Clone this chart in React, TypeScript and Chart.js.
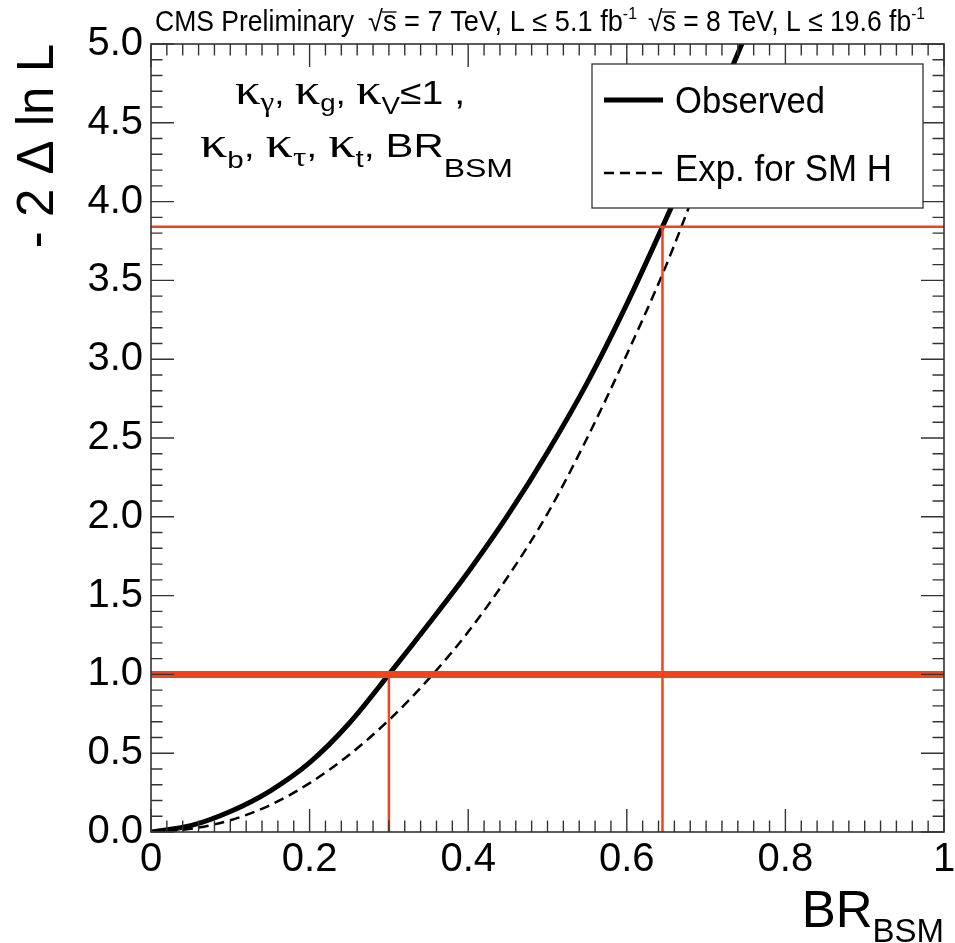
import { useEffect, useRef } from "react";
import { Chart, registerables } from "chart.js";

Chart.register(...registerables);

// Observed likelihood scan, -2ΔlnL vs BR_BSM
const observedX = [0, 0.05, 0.1, 0.15, 0.2, 0.25, 0.3, 0.35, 0.4, 0.45, 0.5, 0.55, 0.6, 0.645, 0.7, 0.75];
const observedY = [0, 0.04, 0.13, 0.26, 0.44, 0.69, 1.0, 1.32, 1.65, 2.01, 2.41, 2.85, 3.35, 3.84, 4.46, 5.06];

// Expected scan for a SM Higgs boson
const expectedX = [0, 0.05, 0.1, 0.15, 0.2, 0.25, 0.3, 0.35, 0.4, 0.45, 0.5, 0.55, 0.6, 0.65, 0.7, 0.72];
const expectedY = [0, 0.02, 0.075, 0.17, 0.31, 0.49, 0.71, 0.97, 1.27, 1.62, 2.02, 2.5, 3.03, 3.6, 4.25, 4.5];

// 68% / 95% CL thresholds and the observed limits where the scan crosses them
const clLevels = [1.0, 3.84];
const clLimits = [0.3, 0.645];

const xTickValues = [0, 0.2, 0.4, 0.6, 0.8, 1];
const xTickLabels = ["0", "0.2", "0.4", "0.6", "0.8", "1"];
const yTickValues = [0, 0.5, 1, 1.5, 2, 2.5, 3, 3.5, 4, 4.5, 5];
const yTickLabels = ["0.0", "0.5", "1.0", "1.5", "2.0", "2.5", "3.0", "3.5", "4.0", "4.5", "5.0"];
const xMinorStep = 0.02;
const yMinorStep = 0.1;

const legendLabels = ["Observed", "Exp. for SM H"];

const SANS = '"Liberation Sans", Arial, Helvetica, sans-serif';
const GREEK = '"Liberation Serif", "DejaVu Serif", serif';
const RED = "#f0441f";
const FRAME = "#333333";

type Seg = { t: string; f: string; dy?: number; over?: boolean };

function segWidth(ctx: CanvasRenderingContext2D, segs: Seg[]) {
  let w = 0;
  for (const s of segs) {
    ctx.font = s.f;
    w += ctx.measureText(s.t).width;
  }
  return w;
}

// Draws a run of differently styled pieces; optionally squeezed/stretched to a width
function drawSegs(ctx: CanvasRenderingContext2D, segs: Seg[], x: number, y: number, targetW?: number) {
  const w = segWidth(ctx, segs);
  const sx = targetW ? targetW / w : 1;
  ctx.save();
  ctx.translate(x, y);
  ctx.scale(sx, 1);
  ctx.textAlign = "left";
  ctx.textBaseline = "alphabetic";
  let cx = 0;
  for (const s of segs) {
    ctx.font = s.f;
    const m = ctx.measureText(s.t);
    ctx.fillText(s.t, cx, s.dy || 0);
    if (s.over) {
      // radical overbar above the argument
      const top = (s.dy || 0) - m.actualBoundingBoxAscent - 3;
      ctx.save();
      ctx.strokeStyle = ctx.fillStyle as string;
      ctx.lineWidth = 1.3;
      ctx.beginPath();
      ctx.moveTo(cx - 1, top);
      ctx.lineTo(cx + m.width, top);
      ctx.stroke();
      ctx.restore();
    }
    cx += m.width;
  }
  ctx.restore();
}

const pts = (xs: number[], ys: number[]) => xs.map((x, i) => ({ x, y: ys[i] }));

const frameAndLegend = {
  id: "frameAndLegend",
  afterDatasetsDraw(chart: any) {
    const { ctx, chartArea: a, scales } = chart;
    const xs = scales.x;
    const ys = scales.y;
    ctx.save();
    ctx.strokeStyle = FRAME;
    ctx.lineWidth = 1.4;
    ctx.beginPath();
    const nx = Math.round((xs.max - xs.min) / xMinorStep);
    for (let i = 0; i <= nx; i++) {
      const v = xs.min + i * xMinorStep;
      const px = xs.getPixelForValue(v);
      const major = xTickValues.some((t) => Math.abs(t - v) < 1e-6);
      const len = major ? 23 : 11.5;
      ctx.moveTo(px, a.bottom);
      ctx.lineTo(px, a.bottom - len);
      ctx.moveTo(px, a.top);
      ctx.lineTo(px, a.top + len);
    }
    const ny = Math.round((ys.max - ys.min) / yMinorStep);
    for (let i = 0; i <= ny; i++) {
      const v = ys.min + i * yMinorStep;
      const py = ys.getPixelForValue(v);
      const major = yTickValues.some((t) => Math.abs(t - v) < 1e-6);
      const len = major ? 23 : 11.5;
      ctx.moveTo(a.left, py);
      ctx.lineTo(a.left + len, py);
      ctx.moveTo(a.right, py);
      ctx.lineTo(a.right - len, py);
    }
    ctx.stroke();
    ctx.lineWidth = 1.6;
    ctx.strokeRect(a.left, a.top, a.right - a.left, a.bottom - a.top);

    // legend box
    const lx = a.left + 441;
    const ly = a.top + 20;
    const lw = 331;
    const lh = 144;
    ctx.fillStyle = "#ffffff";
    ctx.fillRect(lx, ly, lw, lh);
    ctx.lineWidth = 1.3;
    ctx.strokeStyle = FRAME;
    ctx.strokeRect(lx, ly, lw, lh);

    const entries = [
      { ds: chart.data.datasets[4], y: ly + 36, ty: ly + 49 },
      { ds: chart.data.datasets[5], y: ly + 109, ty: ly + 117 },
    ];
    const textW = [150, 217];
    entries.forEach((e, i) => {
      ctx.save();
      ctx.strokeStyle = e.ds.borderColor;
      ctx.lineWidth = e.ds.borderWidth;
      ctx.setLineDash(e.ds.borderDash || []);
      ctx.beginPath();
      ctx.moveTo(lx + 12, e.y);
      ctx.lineTo(lx + 71, e.y);
      ctx.stroke();
      ctx.restore();
      ctx.fillStyle = "#000";
      drawSegs(ctx, [{ t: legendLabels[i], f: `36px ${SANS}` }], lx + 83, e.ty, textW[i]);
    });
    ctx.restore();
  },
  afterDraw(chart: any) {
    const { ctx, chartArea: a } = chart;
    ctx.save();
    ctx.fillStyle = "#000";

    // y axis title, rotated, ending at the top of the frame
    ctx.save();
    ctx.translate(53, a.top);
    ctx.rotate(-Math.PI / 2);
    ctx.font = `51px ${SANS}`;
    ctx.textAlign = "right";
    ctx.textBaseline = "alphabetic";
    ctx.fillText("- 2 \u0394 ln L", 0, 0);
    ctx.restore();

    // x axis title, right-aligned with the frame
    const xt: Seg[] = [
      { t: "BR", f: `51px ${SANS}` },
      { t: "BSM", f: `33px ${SANS}`, dy: 15 },
    ];
    const xtw = segWidth(ctx, xt);
    drawSegs(ctx, xt, a.right - xtw, 927);

    // header
    const hf = `29px ${SANS}`;
    const hs = `17px ${SANS}`;
    drawSegs(ctx, [{ t: "CMS Preliminary", f: hf }], 155, 31, 199);
    const lumi = (e: string, l: string): Seg[] => [
      { t: "\u221A", f: hf },
      { t: "s", f: hf, over: true },
      { t: " = " + e + " TeV, L \u2264 " + l + " fb", f: hf },
      { t: "-1", f: hs, dy: -12 },
    ];
    drawSegs(ctx, lumi("7", "5.1"), 368, 31, 269);
    drawSegs(ctx, lumi("8", "19.6"), 648, 31, 277);

    // model annotation
    const k = `44px ${GREEK}`;
    const sub = `24px ${SANS}`;
    const subG = `27px ${GREEK}`;
    const t = `32px ${SANS}`;
    drawSegs(
      ctx,
      [
        { t: "\u03BA", f: k },
        { t: "\u03B3", f: subG, dy: 7 },
        { t: ", ", f: t },
        { t: "\u03BA", f: k },
        { t: "g", f: sub, dy: 7 },
        { t: ", ", f: t },
        { t: "\u03BA", f: k },
        { t: "V", f: sub, dy: 10 },
        { t: "\u22641 ,", f: `34px ${SANS}` },
      ],
      235,
      104,
      230
    );
    drawSegs(
      ctx,
      [
        { t: "\u03BA", f: k },
        { t: "b", f: sub, dy: 11 },
        { t: ", ", f: t },
        { t: "\u03BA", f: k },
        { t: "\u03C4", f: subG, dy: 9 },
        { t: ", ", f: t },
        { t: "\u03BA", f: k },
        { t: "t", f: sub, dy: 10 },
        { t: ", ", f: t },
        { t: "BR", f: `34px ${SANS}` },
        { t: "BSM", f: `26px ${SANS}`, dy: 20 },
      ],
      200,
      157,
      313
    );
    ctx.restore();
  },
};

export default function App() {
  const ref = useRef<HTMLCanvasElement>(null);

  useEffect(() => {
    const canvas = ref.current;
    if (!canvas) return;
    const chart = new Chart(canvas, {
      type: "line",
      data: {
        datasets: [
          {
            label: "1 sigma",
            data: [
              { x: 0, y: clLevels[0] },
              { x: 1, y: clLevels[0] },
            ],
            borderColor: RED,
            borderWidth: 7,
            pointRadius: 0,
            clip: 0,
          },
          {
            label: "95% CL",
            data: [
              { x: 0, y: clLevels[1] },
              { x: 1, y: clLevels[1] },
            ],
            borderColor: RED,
            borderWidth: 2.5,
            pointRadius: 0,
            clip: 0,
          },
          {
            label: "limit 1",
            data: [
              { x: clLimits[0], y: 0 },
              { x: clLimits[0], y: clLevels[0] },
            ],
            borderColor: RED,
            borderWidth: 2.5,
            pointRadius: 0,
            clip: 0,
          },
          {
            label: "limit 2",
            data: [
              { x: clLimits[1], y: 0 },
              { x: clLimits[1], y: clLevels[1] },
            ],
            borderColor: RED,
            borderWidth: 2.5,
            pointRadius: 0,
            clip: 0,
          },
          {
            label: legendLabels[0],
            data: pts(observedX, observedY),
            borderColor: "#000000",
            borderWidth: 5,
            pointRadius: 0,
            cubicInterpolationMode: "monotone",
            clip: 0,
          },
          {
            label: legendLabels[1],
            data: pts(expectedX, expectedY),
            borderColor: "#000000",
            borderWidth: 2.5,
            borderDash: [10, 6],
            pointRadius: 0,
            cubicInterpolationMode: "monotone",
            clip: 0,
          },
        ],
      },
      options: {
        animation: false,
        responsive: false,
        devicePixelRatio: 1,
        events: [],
        layout: { padding: { top: 44, right: 11, bottom: 0, left: 0 } },
        plugins: { legend: { display: false }, tooltip: { enabled: false } },
        scales: {
          x: {
            type: "linear",
            position: "bottom",
            min: 0,
            max: 1,
            afterBuildTicks: (s: any) => {
              s.ticks = xTickValues.map((v) => ({ value: v }));
            },
            afterFit: (s: any) => {
              s.height = 111;
              s.paddingLeft = 0;
              s.paddingRight = 0;
            },
            ticks: {
              callback: (_v: any, i: number) => xTickLabels[i],
              font: { family: SANS, size: 40 },
              color: "#000",
              padding: 4,
              maxRotation: 0,
              autoSkip: false,
            },
            grid: { display: false, drawTicks: false },
            border: { display: false },
          },
          y: {
            type: "linear",
            position: "left",
            min: 0,
            max: 5,
            afterBuildTicks: (s: any) => {
              s.ticks = yTickValues.map((v) => ({ value: v }));
            },
            afterFit: (s: any) => {
              s.width = 151;
              s.paddingTop = 0;
              s.paddingBottom = 0;
            },
            ticks: {
              callback: (_v: any, i: number) => yTickLabels[i],
              font: { family: SANS, size: 40 },
              color: "#000",
              padding: 8,
              autoSkip: false,
            },
            grid: { display: false, drawTicks: false },
            border: { display: false },
          },
        },
      },
      plugins: [frameAndLegend],
    } as any);
    return () => chart.destroy();
  }, []);

  return (
    <div style={{ position: "absolute", left: 0, top: 0, width: 955, height: 943, background: "#fff" }}>
      <canvas ref={ref} width={955} height={943} style={{ display: "block", width: 955, height: 943 }} />
    </div>
  );
}
